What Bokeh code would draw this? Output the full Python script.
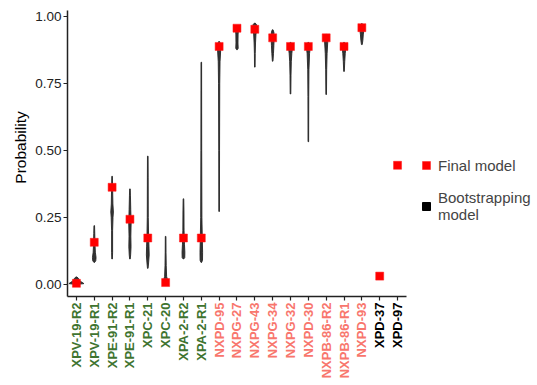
from bokeh.plotting import figure
from bokeh.models import (Range1d, FixedTicker, ColumnDataSource, LinearAxis,
                          Legend, LegendItem, PrintfTickFormatter)
from bokeh.core.properties import value
from bokeh.embed import file_html
from bokeh.resources import INLINE
import math

# ---------------- data ----------------
categories = ["XPV-19-R2", "XPV-19-R1", "XPE-91-R2", "XPE-91-R1", "XPC-21", "XPC-20",
              "XPA-2-R2", "XPA-2-R1", "NXPD-95", "NXPG-27", "NXPG-43", "NXPG-34",
              "NXPG-32", "NXPD-30", "NXPB-86-R2", "NXPB-86-R1", "NXPD-93", "XPD-37", "XPD-97"]
groups = ["XP"] * 8 + ["NXP"] * 9 + ["XPD"] * 2
final_model = [0.004, 0.157, 0.362, 0.243, 0.173, 0.007, 0.173, 0.173, 0.887, 0.955,
               0.951, 0.919, 0.887, 0.887, 0.919, 0.887, 0.957, 0.031, 0.444]

# bootstrapping violin profiles: probability levels and half-width (px)
boot_categories = categories[:17]
boot_levels = [
    [0.0, 0.003, 0.008, 0.015, 0.022, 0.028],
    [0.082, 0.088, 0.10, 0.12, 0.15, 0.19, 0.219],
    [0.095, 0.12, 0.20, 0.25, 0.27, 0.30, 0.36, 0.403],
    [0.095, 0.11, 0.14, 0.18, 0.23, 0.28, 0.33, 0.356],
    [0.06, 0.08, 0.11, 0.14, 0.18, 0.25, 0.40, 0.478],
    [0.0, 0.006, 0.015, 0.03, 0.07, 0.12, 0.179],
    [0.095, 0.10, 0.12, 0.15, 0.20, 0.27, 0.319],
    [0.082, 0.09, 0.12, 0.17, 0.25, 0.50, 0.828],
    [0.272, 0.50, 0.75, 0.83, 0.87, 0.89, 0.905],
    [0.875, 0.88, 0.90, 0.93, 0.95, 0.962],
    [0.81, 0.86, 0.90, 0.93, 0.955, 0.968, 0.974],
    [0.832, 0.86, 0.89, 0.92, 0.94, 0.949],
    [0.71, 0.78, 0.83, 0.86, 0.88, 0.895, 0.902],
    [0.532, 0.70, 0.80, 0.86, 0.88, 0.895, 0.902],
    [0.708, 0.80, 0.86, 0.90, 0.92, 0.932],
    [0.794, 0.83, 0.86, 0.88, 0.895, 0.902],
    [0.894, 0.91, 0.93, 0.95, 0.965, 0.972],
]
boot_halfwidths = [
    [0.4, 7.5, 5.5, 2.8, 2.2, 0.4],
    [0.3, 1.5, 1.8, 1.1, 0.7, 0.5, 0.3],
    [0.3, 0.5, 0.5, 0.9, 1.3, 0.8, 0.5, 0.3],
    [0.3, 0.7, 1.1, 0.9, 1.2, 0.8, 0.5, 0.3],
    [0.3, 0.8, 1.4, 1.2, 0.8, 0.5, 0.4, 0.3],
    [0.4, 2.5, 2.0, 1.0, 0.6, 0.4, 0.3],
    [0.3, 1.3, 1.4, 1.0, 0.6, 0.5, 0.3],
    [0.3, 1.2, 1.3, 1.0, 0.6, 0.4, 0.3],
    [0.3, 0.4, 0.6, 0.9, 1.5, 1.7, 0.5],
    [0.4, 1.2, 1.0, 1.1, 1.4, 0.4],
    [0.3, 0.4, 0.7, 1.1, 2.0, 1.8, 0.4],
    [0.3, 0.8, 1.2, 1.5, 1.2, 0.4],
    [0.3, 0.5, 0.8, 1.3, 1.9, 1.6, 0.4],
    [0.3, 0.4, 0.6, 1.2, 1.8, 1.6, 0.4],
    [0.3, 0.5, 0.9, 1.5, 1.9, 0.4],
    [0.3, 0.7, 1.2, 1.7, 1.5, 0.4],
    [0.4, 1.0, 1.4, 2.0, 1.7, 0.4],
]

y_ticks = [0.0, 0.25, 0.5, 0.75, 1.0]
group_colors = {"XP": "#3f7430", "NXP": "#f8766d", "XPD": "#000000"}

# ---------------- layout (pixels) ----------------
W, H = 535, 383
LEFT, TOP, FRAME_H = 67, 10, 286          # data panel position inside the canvas
n = len(categories)
CAT_PX = 17.84                             # width of one category slot
y_lo, y_hi = -0.045, 1.021                 # data panel value extent
PX_Y = FRAME_H / (y_hi - y_lo)
x_lo, x_hi = -0.5, n - 0.5

# the drawing area spans the whole canvas so that labels and legend stay visible
view_x = Range1d(x_lo - LEFT / CAT_PX, x_lo + (W - LEFT) / CAT_PX)
view_y = Range1d(y_lo - (H - TOP - FRAME_H) / PX_Y, y_hi + TOP / PX_Y)

pos = {c: i for i, c in enumerate(categories)}

p = figure(width=W, height=H, output_backend="svg", toolbar_location=None,
           x_range=view_x, y_range=view_y,
           x_axis_location=None, y_axis_location=None, min_border=0)
p.outline_line_color = None
p.xgrid.visible = False
p.ygrid.visible = False

# violins (bootstrapping model)
for cat, lv, hw in zip(boot_categories, boot_levels, boot_halfwidths):
    offs = [h / CAT_PX for h in hw]
    xs = [pos[cat] + o for o in offs] + [pos[cat] - o for o in reversed(offs)]
    ys = list(lv) + list(reversed(lv))
    p.patch(x=xs, y=ys, fill_color="#333333", line_color="#262626", line_width=0.9)

# final model squares
src = ColumnDataSource(dict(x=[pos[c] for c in categories], y=final_model, name=categories))
fin = p.scatter("x", "y", source=src, marker="square", size=8,
                fill_color="#ff0000", line_color="#ff1a1a", line_width=0.5)
boot_dummy = p.scatter(x=[0], y=[float("nan")], marker="square", size=8,
                       fill_color="black", line_color="black")

# y axis along the left edge of the data panel
yax = LinearAxis(fixed_location=x_lo, bounds=(y_lo, y_hi),
                 ticker=FixedTicker(ticks=y_ticks, minor_ticks=[]),
                 formatter=PrintfTickFormatter(format="%.2f"),
                 major_label_text_font="Liberation Sans",
                 major_label_text_font_size="13.5px",
                 major_label_text_color="#222222",
                 major_label_standoff=2,
                 major_tick_out=4, major_tick_in=0,
                 major_tick_line_color="#222222", major_tick_line_width=1.2,
                 minor_tick_line_color=None,
                 axis_line_color="#222222", axis_line_width=1.5)
p.add_layout(yax, "left")

# x axis (tick marks) along the bottom edge of the data panel
tick_pos = [pos[c] for c in categories]
xax = LinearAxis(fixed_location=y_lo, bounds=(x_lo, x_hi),
                 ticker=FixedTicker(ticks=tick_pos, minor_ticks=[]),
                 major_label_overrides={t: "" for t in tick_pos},
                 major_tick_out=4, major_tick_in=0,
                 major_tick_line_color="#222222", major_tick_line_width=1.2,
                 minor_tick_line_color=None,
                 axis_line_color="#222222", axis_line_width=1.5)
p.add_layout(xax, "below")

# coloured category labels under the ticks
lab_src = ColumnDataSource(dict(x=tick_pos, y=[y_lo - 6 / PX_Y] * n, t=categories,
                                c=[group_colors[g] for g in groups]))
p.text(x="x", y="y", text="t", source=lab_src, text_color="c",
       angle=math.pi / 2, text_align="right", text_baseline="middle",
       text_font=value("Liberation Sans"), text_font_style="bold", text_font_size="13px")

# y axis title
p.text(x=[x_lo - (LEFT - 20) / CAT_PX], y=[y_hi - (147 - TOP) / PX_Y], text=["Probability"],
       angle=math.pi / 2, text_align="center", text_baseline="middle",
       text_font=value("Liberation Sans"), text_font_size="15.5px", text_color="black")

legend = Legend(items=[LegendItem(label="Final model", renderers=[fin]),
                       LegendItem(label="Bootstrapping\nmodel", renderers=[boot_dummy])],
                location=(416, 160), padding=0, margin=0, spacing=14,
                glyph_width=20, glyph_height=20, label_standoff=2,
                label_text_font="Liberation Sans", label_text_font_size="15px",
                label_text_line_height=1.6,
                border_line_color=None, background_fill_alpha=0)
p.add_layout(legend)

open("out.html", "w").write(file_html(p, INLINE))
